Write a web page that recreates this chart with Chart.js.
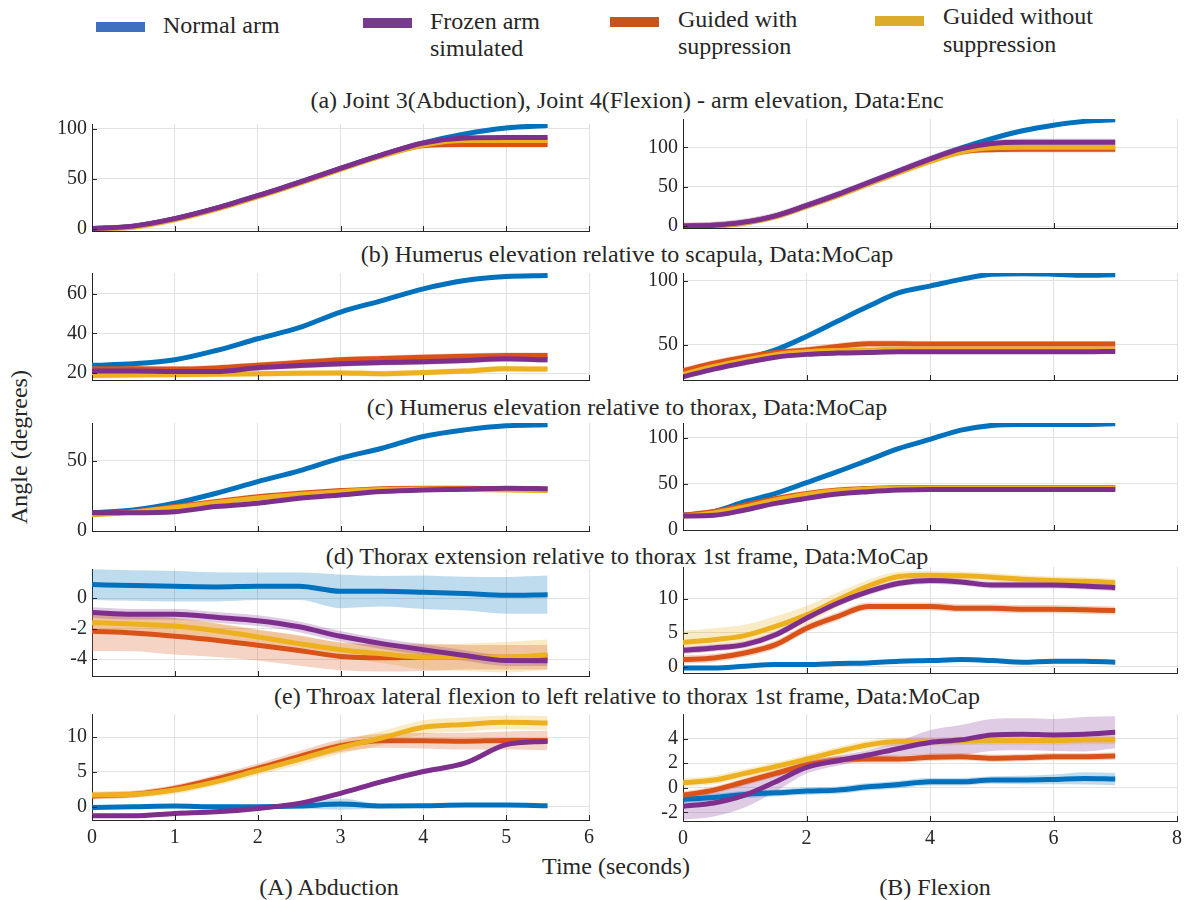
<!DOCTYPE html>
<html><head><meta charset="utf-8">
<script src="https://cdn.jsdelivr.net/npm/chart.js@4.4.1/dist/chart.umd.min.js"></script>
<style>
body{margin:0;background:#fff;}
#wrap{position:relative;width:1186px;height:900px;overflow:hidden;font-family:"Liberation Serif","Times New Roman",serif;color:#262626;}
.box{position:absolute;}
.txt{position:absolute;white-space:nowrap;line-height:27px;}
.sw{position:absolute;height:10px;width:49px;}
</style></head><body><div id="wrap"></div>
<script>
// ---------- DATA ----------
const leftTime  = [0,0.5,1,1.5,2,2.5,3,3.5,4,4.5,5,5.5];
const rightTime = [0,0.5,1,1.5,2,2.5,3,3.5,4,4.5,5,5.5,6,6.5,7];
const leftXTicks  = [0,1,2,3,4,5,6];
const rightXTicks = [0,2,4,6,8];
const seriesNames = ['Normal arm','Frozen arm simulated','Guided with suppression','Guided without suppression'];
const panelTitles = [
 '(a) Joint 3(Abduction), Joint 4(Flexion)  - arm elevation, Data:Enc',
 '(b) Humerus elevation relative to scapula, Data:MoCap',
 '(c) Humerus elevation relative to thorax, Data:MoCap',
 '(d) Thorax extension relative to thorax 1st frame, Data:MoCap',
 '(e) Throax lateral flexion to left relative to thorax 1st frame, Data:MoCap'
];

// (a) arm elevation
const aL_normal  = [0,2.5,10,20.5,33,46.5,60.5,74,86,95,101,103.5];
const aL_frozen  = [0,2.5,10,20.5,33,46.5,60.5,74,86,91,91.5,91.5];
const aL_withS   = [0,2.2,9.6,20,32.5,46,60,73.5,83.5,84.5,84.5,84.5];
const aL_without = [-1,1.5,9,19.5,32,45.5,59.5,73,84,88.5,88.5,88.5];
const aL_sd = [1.5,2,3,3];
const aL_yTicks = [0,50,100];
const aR_normal  = [0,1,5,13,26,40,55,70,85,99,111,121,128,133,135];
const aR_frozen  = [0,1,5,13,26,40,55,70,85,98,105,106.5,106.5,106.5,106.5];
const aR_withS   = [0,0.8,4.6,12.5,25.5,39,54,69,83,94,97,97.5,97.5,97.5,97.5];
const aR_without = [0,0.6,4.2,12,25,38.5,53.5,68,82,94,99.5,100,100,100,100];
const aR_sd = [2,4.5,4,4];
const aR_yTicks = [0,50,100];

// (b) humerus vs scapula
const bL_normal  = [23.9,24.7,26.7,31.4,37.3,42.9,50.8,56.6,62.5,66.7,68.7,69.2];
const bL_frozen  = [21,21,20.8,20.8,22.7,23.8,24.7,25.3,25.7,26.4,27.2,26.7];
const bL_withS   = [22.2,22.2,22,22.6,23.9,25.3,26.7,27.4,28,28.5,28.9,28.9];
const bL_without = [18.8,19,19.2,19.4,19.7,19.9,20,19.7,20.3,21,22.2,22];
const bL_sd = [1,1.5,1.5,1.5];
const bL_yTicks = [20,40,60];
const bR_normal  = [27,33,39,46,56.5,68.3,80,90.6,95.8,101,105,105.5,105,104.2,104.7];
const bR_frozen  = [25,31,36,40.3,42.5,43.5,44,44.5,44.5,44.5,44.5,44.5,44.5,44.5,44.8];
const bR_withS   = [29.8,35.6,40.3,44,46,48.7,50.8,50.8,50.5,50.5,50.5,50.5,50.5,50.5,50.5];
const bR_without = [27,33,38,42.3,44.5,45.5,46,46.5,46.5,46.5,46.5,46.5,46.5,46.5,46.5];
const bR_sd = [1.2,1.2,2.5,1];
const bR_yTicks = [50,100];

// (c) humerus vs thorax
const cL_normal  = [13.1,15,19.8,26.9,35.2,42.9,51.9,59,67.4,72.1,75,75.7];
const cL_frozen  = [13.1,13.1,13.8,17.4,19.8,23.3,25.7,28.1,29.3,29.8,30.5,30.2];
const cL_withS   = [12,13.8,17.4,21,24.5,26.9,28.8,30.2,30.5,30.5,30.2,29.8];
const cL_without = [11.5,13.5,16.8,20.3,23.5,26,28,29.5,30,29.7,29.2,28.8];
const cL_sd = [0.8,1,1,1];
const cL_yTicks = [0,50];
const cR_normal  = [16.2,19.9,30.7,39.7,51.3,63.2,75.8,88.4,98.2,108.3,113.4,114.4,114.4,114.4,115.2];
const cR_frozen  = [15.2,15.9,21.7,28.9,34.3,39,41.5,43.3,44,44,44,44,44,44,44];
const cR_withS   = [16,20,27,34.3,39.7,43.3,45.1,46.2,46,46,46,46,46,46,46];
const cR_without = [15,18.5,25,32.5,38.5,42.5,44.5,45.5,45.5,45.5,45.5,45.5,45.5,45.5,45.5];
const cR_sd = [1,1.5,1.5,1];
const cR_yTicks = [0,50,100];

// (d) thorax extension
const dL_normal  = [0.88,0.82,0.77,0.73,0.77,0.77,0.44,0.44,0.38,0.29,0.18,0.22];
const dL_frozen  = [-0.95,-1.06,-1.06,-1.26,-1.48,-1.88,-2.5,-2.98,-3.38,-3.76,-4.09,-4.1];
const dL_withS   = [-2.17,-2.28,-2.5,-2.76,-3.09,-3.43,-3.82,-3.91,-3.87,-3.87,-3.87,-3.87];
const dL_without = [-1.61,-1.7,-1.83,-2.14,-2.54,-2.98,-3.38,-3.65,-3.87,-3.87,-3.87,-3.71];
const dL_normalSd  = [1.0,1.0,1.0,0.95,0.9,0.9,1.1,1.0,1.1,1.1,1.2,1.25];
const dL_withSd    = [1.3,1.2,1.2,1.1,1.0,1.0,0.9,0.9,0.9,0.8,0.8,0.8];
const dL_withoutSd = [0.5,0.5,0.5,0.5,0.5,0.5,0.5,0.6,0.8,0.9,1.0,1.0];
const dL_sd = [dL_normalSd,0.35,dL_withSd,dL_withoutSd];
const dL_yTicks = [-4,-2,0];
const dR_normal  = [-0.15,-0.15,0.1,0.34,0.34,0.49,0.58,0.83,0.93,1.07,0.93,0.68,0.83,0.83,0.68];
const dR_frozen  = [2.44,2.78,3.27,4.73,7.17,9.37,11.07,12.3,12.7,12.5,12.05,12.05,12.05,11.9,11.66];
const dR_withS   = [1.07,1.32,2.05,3.27,5.7,7.4,8.88,8.88,8.88,8.63,8.63,8.5,8.5,8.4,8.3];
const dR_without = [3.6,4,4.6,5.95,7.66,9.85,11.9,13.3,13.5,13.4,13.2,12.9,12.7,12.6,12.4];
const dR_withoutSd = [1.7,1.7,1.6,1.5,1.3,1.1,0.9,0.7,0.6,0.6,0.6,0.6,0.6,0.6,0.6];
const dR_sd = [0.3,0.5,0.6,dR_withoutSd];
const dR_yTicks = [0,5,10];

// (e) thorax lateral flexion
const eL_normal  = [-0.1,0,0.1,0,0,0.1,0.38,0.1,0.14,0.24,0.24,0.14];
const eL_frozen  = [-1.3,-1.3,-0.96,-0.72,-0.24,0.48,1.92,3.6,5.05,6.25,8.9,9.4];
const eL_withS   = [1.54,1.78,2.64,4,5.5,7.2,8.75,9.47,9.47,9.4,9.5,9.5];
const eL_without = [1.68,1.78,2.4,3.6,5.2,6.8,8.5,9.86,11.4,11.8,12.1,12.0];
const eL_normalSd  = [0.3,0.3,0.3,0.3,0.3,0.4,0.8,0.3,0.25,0.25,0.25,0.25];
const eL_withSd    = [0.5,0.5,0.5,0.6,0.7,0.8,0.9,1.0,1.1,1.2,1.3,1.4];
const eL_withoutSd = [0.5,0.5,0.6,0.6,0.7,0.8,0.9,1.0,1.0,1.0,1.0,1.0];
const eL_sd = [eL_normalSd,0.3,eL_withSd,eL_withoutSd];
const eL_yTicks = [0,5,10];
const eR_normal  = [-0.95,-0.79,-0.54,-0.41,-0.27,-0.19,0.08,0.27,0.49,0.49,0.63,0.63,0.68,0.76,0.71];
const eR_frozen  = [-1.5,-1.23,-0.6,0.49,1.66,2.2,2.67,3.2,3.68,3.9,4.3,4.36,4.3,4.36,4.52];
const eR_withS   = [-0.6,-0.19,0.49,1.17,1.85,2.26,2.34,2.34,2.48,2.53,2.4,2.45,2.53,2.53,2.59];
const eR_without = [0.41,0.63,1.17,1.72,2.32,2.94,3.49,3.76,3.76,3.81,3.84,3.84,3.84,3.9,3.9];
const eR_normalSd = [0.3,0.3,0.3,0.3,0.3,0.3,0.3,0.3,0.3,0.3,0.3,0.35,0.4,0.5,0.5];
const eR_frozenSd = [1.1,1.1,1.0,0.8,0.5,0.4,0.4,0.6,1.0,1.2,1.3,1.3,1.3,1.4,1.3];
const eR_sd = [eR_normalSd,eR_frozenSd,0.3,0.35];
const eR_yTicks = [-2,0,2,4];

// ---------- STYLE / LAYOUT ----------
const lineColors = ['#0072BD','#7E2F8E','#D95319','#EDB120'];
const swatchColors = ['#3f6fbf','#763a8f','#c2561f','#dcab2c'];
const bandColors = ['rgba(0,114,189,0.25)','rgba(126,47,142,0.25)','rgba(217,83,25,0.25)','rgba(237,177,32,0.25)'];
const drawOrder = [4,1,3,2];
const FONT = 'Liberation Serif';
const AX = '#262626';

const panels = [
 {time:leftTime, xt:leftXTicks, xMax:6, s:[aL_normal,aL_frozen,aL_withS,aL_without], sd:aL_sd, yt:aL_yTicks, yMin:-2.4, yMax:105, box:[92,124,589,231], showX:false},
 {time:rightTime,xt:rightXTicks,xMax:8, s:[aR_normal,aR_frozen,aR_withS,aR_without], sd:aR_sd, yt:aR_yTicks, yMin:-2.5, yMax:136, box:[683,119,1177,228], showX:false},
 {time:leftTime, xt:leftXTicks, xMax:6, s:[bL_normal,bL_frozen,bL_withS,bL_without], sd:bL_sd, yt:bL_yTicks, yMin:16.5, yMax:70.5, box:[92,273,589,380], showX:false},
 {time:rightTime,xt:rightXTicks,xMax:8, s:[bR_normal,bR_frozen,bR_withS,bR_without], sd:bR_sd, yt:bR_yTicks, yMin:22.5, yMax:106, box:[683,273,1177,380], showX:false},
 {time:leftTime, xt:leftXTicks, xMax:6, s:[cL_normal,cL_frozen,cL_withS,cL_without], sd:cL_sd, yt:cL_yTicks, yMin:0, yMax:77, box:[92,423,589,531], showX:false},
 {time:rightTime,xt:rightXTicks,xMax:8, s:[cR_normal,cR_frozen,cR_withS,cR_without], sd:cR_sd, yt:cR_yTicks, yMin:0, yMax:116, box:[683,423,1177,530], showX:false},
 {time:leftTime, xt:leftXTicks, xMax:6, s:[dL_normal,dL_frozen,dL_withS,dL_without], sd:dL_sd, yt:dL_yTicks, yMin:-5.1, yMax:1.9, box:[92,569,589,676], showX:false},
 {time:rightTime,xt:rightXTicks,xMax:8, s:[dR_normal,dR_frozen,dR_withS,dR_without], sd:dR_sd, yt:dR_yTicks, yMin:-0.9, yMax:14.7, box:[683,567,1177,673], showX:false},
 {time:leftTime, xt:leftXTicks, xMax:6, s:[eL_normal,eL_frozen,eL_withS,eL_without], sd:eL_sd, yt:eL_yTicks, yMin:-1.9, yMax:13.3, box:[92,714,589,820], showX:true},
 {time:rightTime,xt:rightXTicks,xMax:8, s:[eR_normal,eR_frozen,eR_withS,eR_without], sd:eR_sd, yt:eR_yTicks, yMin:-2.7, yMax:6, box:[683,714,1177,821], showX:true}
];

const wrap = document.getElementById('wrap');

const innerTicks = {
  id:'innerTicks',
  afterDraw(chart){
    const ctx = chart.ctx, a = chart.chartArea, sx = chart.scales.x, sy = chart.scales.y;
    ctx.save(); ctx.strokeStyle = AX; ctx.lineWidth = 1;
    sx.ticks.forEach(t=>{const x=Math.round(sx.getPixelForValue(t.value))+0.5; ctx.beginPath(); ctx.moveTo(x,a.bottom); ctx.lineTo(x,a.bottom-5); ctx.stroke();});
    sy.ticks.forEach(t=>{const y=Math.round(sy.getPixelForValue(t.value))+0.5; ctx.beginPath(); ctx.moveTo(a.left,y); ctx.lineTo(a.left+5,y); ctx.stroke();});
    ctx.restore();
  }
};

function sdAt(sd,i){ return Array.isArray(sd) ? sd[i] : sd; }
function noPad(s){ s.paddingTop=0; s.paddingBottom=0; s.paddingLeft=0; s.paddingRight=0; }

function buildPanel(p){
  const PL=60, PR=14, PT=14, PB = p.showX ? 34 : 14;
  const [l,t,r,b] = p.box;
  const W = r-l+PL+PR, H = b-t+PT+PB;
  const div = document.createElement('div'); div.className='box';
  div.style.left=(l-PL)+'px'; div.style.top=(t-PT)+'px'; div.style.width=W+'px'; div.style.height=H+'px';
  const cv = document.createElement('canvas'); cv.width=W; cv.height=H; cv.style.width=W+'px'; cv.style.height=H+'px';
  div.appendChild(cv); wrap.appendChild(div);
  const datasets = [];
  p.s.forEach((vals,k)=>{
    datasets.push({data:p.time.map((x,i)=>({x, y:vals[i]+sdAt(p.sd[k],i)})), borderWidth:0, pointRadius:0, fill:'+1', backgroundColor:bandColors[k], cubicInterpolationMode:'monotone', order:10});
    datasets.push({data:p.time.map((x,i)=>({x, y:vals[i]-sdAt(p.sd[k],i)})), borderWidth:0, pointRadius:0, fill:false, cubicInterpolationMode:'monotone', order:10});
  });
  p.s.forEach((vals,k)=>{
    datasets.push({label:seriesNames[k], data:p.time.map((x,i)=>({x, y:vals[i]})), borderColor:lineColors[k], borderWidth:5, pointRadius:0, fill:false, cubicInterpolationMode:'monotone', order:drawOrder[k], borderJoinStyle:'round'});
  });
  new Chart(cv,{
    type:'line',
    data:{datasets},
    options:{
      responsive:false, animation:false, devicePixelRatio:1,
      layout:{padding:{left:0,right:PR,top:PT,bottom:0}},
      plugins:{legend:{display:false}, tooltip:{enabled:false}},
      scales:{
        x:{type:'linear', min:0, max:p.xMax,
           afterBuildTicks:s=>{s.ticks=p.xt.map(v=>({value:v}));},
           afterFit:s=>{s.height=PB; noPad(s);},
           grid:{color:'#e2e2e2', drawTicks:false, lineWidth:1},
           border:{display:true, color:AX, width:1},
           ticks:{display:p.showX, color:AX, font:{family:FONT,size:20}, padding:6, maxRotation:0, autoSkip:false}},
        y:{type:'linear', min:p.yMin, max:p.yMax,
           afterBuildTicks:s=>{s.ticks=p.yt.map(v=>({value:v}));},
           afterFit:s=>{s.width=PL; noPad(s);},
           grid:{color:'#e2e2e2', drawTicks:false, lineWidth:1},
           border:{display:true, color:AX, width:1},
           ticks:{color:AX, font:{family:FONT,size:20}, padding:5}}
      }
    },
    plugins:[innerTicks]
  });
}

function addText(str, x, y, size, align, extra){
  const d = document.createElement('div'); d.className='txt';
  d.textContent = str; d.style.fontSize = size+'px'; d.style.top = y+'px';
  d.style.left = x+'px';
  if (align==='center'){ d.style.transform='translateX(-50%)'; }
  if (extra) Object.assign(d.style, extra);
  wrap.appendChild(d); return d;
}

// panel titles
const titleY = [87,241,394,543,683];
panelTitles.forEach((s,i)=>addText(s, 627, titleY[i], 24, 'center'));

// legend
const legendSw = [[96,22],[363,18],[610,17],[875,16]];
const legendTx = [[163,12,27,['Normal arm']],[430,8,27,['Frozen arm','simulated']],[678,6,27,['Guided with','suppression']],[943,3,28,['Guided without','suppression']]];
legendSw.forEach((sw,k)=>{const d=document.createElement('div'); d.className='sw'; d.style.left=sw[0]+'px'; d.style.top=sw[1]+'px'; d.style.background=swatchColors[k]; wrap.appendChild(d);});
legendTx.forEach(tx=>{ tx[3].forEach((line,j)=>addText(line, tx[0], tx[1]+tx[2]*j, 24, 'left')); });

// axis labels
addText('Time (seconds)', 616, 853, 24, 'center');
addText('(A) Abduction', 329, 874, 24, 'center');
addText('(B) Flexion', 935, 874, 24, 'center');
addText('Angle (degrees)', 19, 447, 24, 'center', {transform:'translate(-50%,-50%) rotate(-90deg)'});

const go = ()=>panels.forEach(buildPanel);
if (document.fonts && document.fonts.load) {
  document.fonts.load('20px "Liberation Serif"').then(go, go);
} else go();
</script></body></html>
